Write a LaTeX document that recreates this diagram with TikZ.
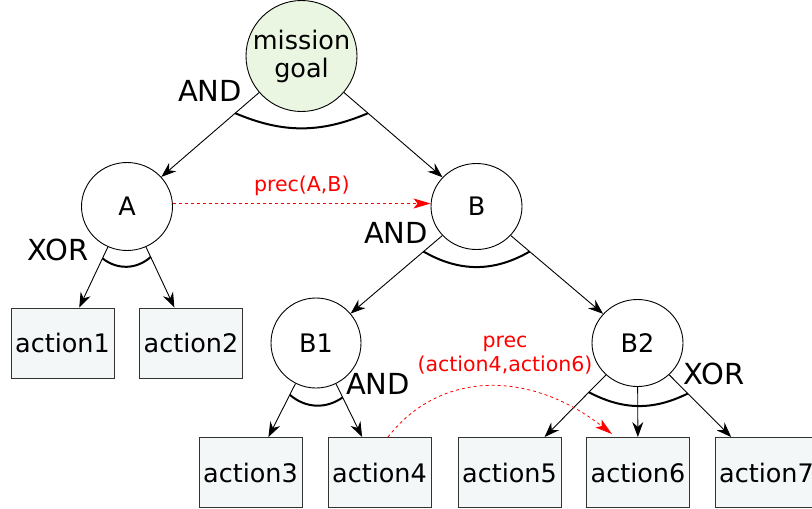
\documentclass[tikz,border=0pt]{standalone}
\usepackage{fontspec}
\setmainfont{DejaVu Sans}
\usetikzlibrary{arrows.meta,shapes.geometric,calc}

\definecolor{goalfill}{RGB}{234,246,225}
\definecolor{actfill}{RGB}{243,247,248}

\begin{document}
\begin{tikzpicture}[x=1pt,y=-1pt,
	task/.style={draw, ellipse, line width=0.9pt, minimum width=91pt, minimum height=88pt, inner sep=0pt, font=\fontsize{25.5}{28}\selectfont},
	action/.style={draw=black!80, fill=actfill, line width=0.9pt, minimum width=103pt, minimum height=70pt, inner sep=0pt, font=\fontsize{25.5}{28}\selectfont},
	link/.style={-{Stealth[length=15pt,width=11pt]}, line width=0.9pt},
	joint/.style={line width=2pt},
	oplabel/.style={font=\fontsize{29}{34}\selectfont},
	prec/.style={red, dashed, line width=0.8pt, -{Stealth[length=17pt,width=10pt,inset=4pt]}},
	preclabel/.style={red, align=center, font=\fontsize{20.5}{24}\selectfont}]
	\useasboundingbox (0,0) rectangle (812,509);
	
	% Goal and sub-tasks
	\node[task, fill=goalfill, inner sep=-11pt, minimum width=111pt, minimum height=111pt, align=center] (goal) at (301.5,56) {mission\\goal};
	\node[task] (A) at (127,206.5) {A};
	\node[task, minimum height=86pt] (B) at (476.5,206.5) {B};
	\node[task, minimum width=90pt, minimum height=90pt] (B1) at (316,343) {B1};
	\node[task, minimum height=87pt] (B2) at (637.5,343) {B2};
	
	% Actions
	\node[action] (act1) at (62.5,343) {action1};
	\node[action] (act2) at (191,343) {action2};
	\node[action] (act3) at (250.5,472.5) {action3};
	\node[action] (act4) at (379.5,472.5) {action4};
	\node[action] (act5) at (509.5,472.5) {action5};
	\node[action] (act6) at (638,472.5) {action6};
	\node[action] (act7) at (766.5,472.5) {action7};
	
	% Decomposition links
	\draw[link] (goal) -- (A);
	\draw[link] (goal) -- (B);
	\draw[link] (A) -- (act1);
	\draw[link] (A) -- (act2);
	\draw[link] (B) -- (B1);
	\draw[link] (B) -- (B2);
	\draw[link] (B1) -- (act3);
	\draw[link] (B1) -- (act4);
	\draw[link] (B2) -- (act5);
	\draw[link] (B2) -- (act6);
	\draw[link] (B2) -- (act7);
	
	% Operator arcs
	\draw[joint] ($(goal)!0.38!(A)$) to[bend right=23] ($(goal)!0.38!(B)$);
	\draw[joint] ($(A)!0.38!(act1)$) to[bend right=40] ($(A)!0.37!(act2)$);
	\draw[joint] ($(B)!0.33!(B1)$) to[bend right=30] ($(B)!0.33!(B2)$);
	\draw[joint] ($(B1)!0.4!(act3)$) to[bend right=38] ($(B1)!0.42!(act4)$);
	\draw[joint] ($(B2)!0.38!(act5)$) to[bend right=27] ($(B2)!0.39!(act7)$);
	
	\node[oplabel] (and1) at (210,91) {AND};
	\node[oplabel] (xor1) at (58,250) {XOR};
	\node[oplabel] (and2) at (396,233) {AND};
	\node[oplabel] (and3) at (378,384) {AND};
	\node[oplabel] (xor2) at (714,374) {XOR};
	
	% Precedence constraints
	\draw[prec] ([yshift=3pt]A.east) -- ([yshift=3pt]B.west) node[preclabel, midway, above=4pt] (precAB) {prec(A,B)};
	\coordinate (tip6) at ([xshift=-26pt,yshift=3pt]act6.north);
	\draw[prec] ([xshift=8.5pt]act4.north) .. controls (440,370) and (530,370) .. (tip6);
	\node[preclabel] (prec46) at (505,355) {prec\\(action4,action6)};
	
\end{tikzpicture}
\end{document}
